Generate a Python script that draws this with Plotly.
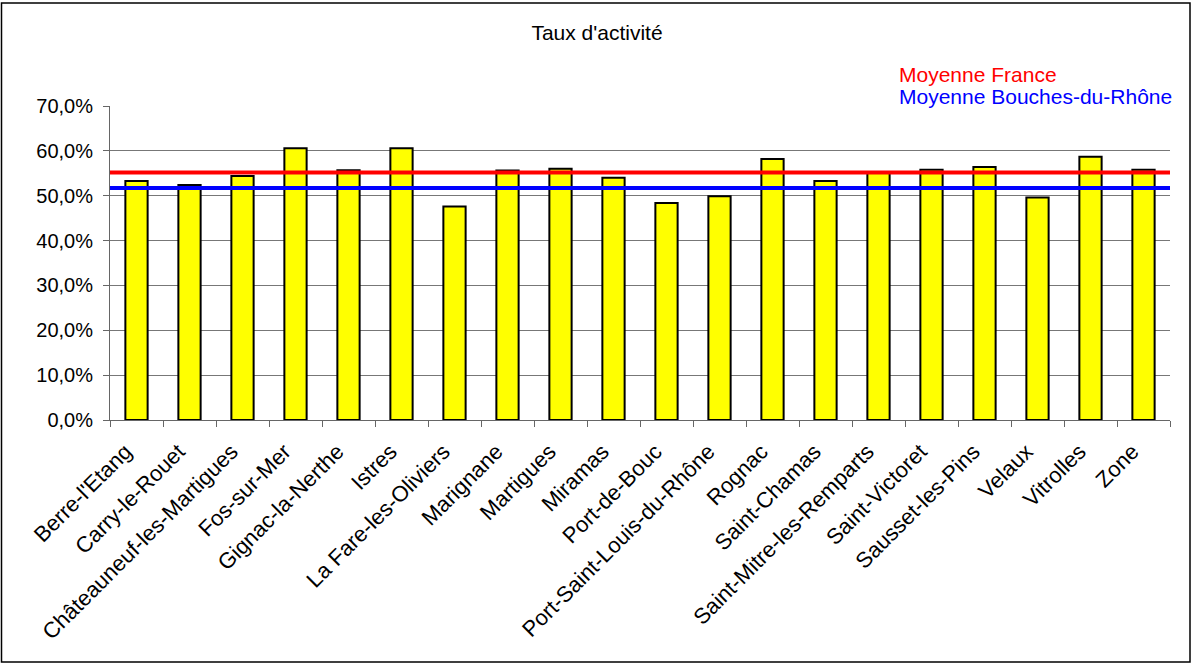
import plotly.graph_objects as go

# Communes and their activity rate (share of active population)
communes = [
    "Berre-l'Etang", "Carry-le-Rouet", "Châteauneuf-les-Martigues", "Fos-sur-Mer",
    "Gignac-la-Nerthe", "Istres", "La Fare-les-Oliviers", "Marignane", "Martigues",
    "Miramas", "Port-de-Bouc", "Port-Saint-Louis-du-Rhône", "Rognac", "Saint-Chamas",
    "Saint-Mitre-les-Remparts", "Saint-Victoret", "Sausset-les-Pins", "Velaux",
    "Vitrolles", "Zone",
]
taux_activite = [
    0.533, 0.524, 0.544, 0.606, 0.557, 0.606, 0.476, 0.556, 0.560, 0.540,
    0.484, 0.499, 0.582, 0.533, 0.552, 0.558, 0.564, 0.496, 0.587, 0.558,
]

# Reference averages
moyenne_france = 0.552
moyenne_bdr = 0.517
ref_labels = ["Moyenne France", "Moyenne Bouches-du-Rhône"]
ref_values = [moyenne_france, moyenne_bdr]
ref_colors = ["#FF0000", "#0000FF"]

y_ticks = [0.0, 0.1, 0.2, 0.3, 0.4, 0.5, 0.6, 0.7]

W, H = 1192, 664
ML, MR, MT, MB = 110, 22, 106, 244
FONT = "Liberation Sans, Arial, sans-serif"

fig = go.Figure()
fig.add_trace(go.Bar(
    x=communes,
    y=taux_activite,
    marker=dict(color="#FFFF00", line=dict(color="#000000", width=2)),
    showlegend=False,
    hoverinfo="x+y",
))

# Horizontal average lines across the plot area
for val, col in zip(ref_values, ref_colors):
    fig.add_shape(type="line", xref="paper", x0=0, x1=1, yref="y", y0=val, y1=val,
                  line=dict(color=col, width=4), layer="above")

# Coloured text labels for the averages
pw = W - ML - MR
ph = H - MT - MB
for i, (lab, col) in enumerate(zip(ref_labels, ref_colors)):
    fig.add_annotation(
        text=lab, xref="paper", yref="paper",
        x=(897 - ML) / pw, y=(H - MB - (75 + 22 * i)) / ph,
        xanchor="left", yanchor="middle", showarrow=False,
        font=dict(family=FONT, size=21, color=col),
    )

# Outer chart frame
fig.add_shape(type="rect", xref="paper", yref="paper",
              x0=(1.5 - ML) / pw, x1=(1190 - ML) / pw,
              y0=(H - MB - 662) / ph, y1=(H - MB - 3) / ph,
              line=dict(color="#000000", width=1.5), layer="below")

fig.update_layout(
    width=W, height=H,
    margin=dict(l=ML, r=MR, t=MT, b=MB),
    paper_bgcolor="white", plot_bgcolor="white",
    separators=", ",
    bargap=0.58,
    title=dict(text="Taux d'activité", x=597 / W, xref="container", xanchor="center",
               y=1 - 33 / H, yanchor="middle",
               font=dict(family=FONT, size=21, color="#000000")),
    font=dict(family=FONT, size=20, color="#000000"),
    xaxis=dict(
        type="category", tickangle=-45, tickson="boundaries",
        ticks="outside", ticklen=6, tickcolor="#666666",
        showline=True, linecolor="#666666", linewidth=1,
        showgrid=False, automargin=False, ticklabelstandoff=9,
        ticklabelshift=-11,
        tickfont=dict(family=FONT, size=22, color="#000000"),
        range=[-0.5, len(communes) - 0.5],
    ),
    yaxis=dict(
        range=[0, 0.7], tickvals=y_ticks, tickformat=".1%",
        ticks="outside", ticklen=6, tickcolor="#666666",
        showline=True, linecolor="#666666", linewidth=1,
        showgrid=True, gridcolor="#777777", gridwidth=1,
        zeroline=False, automargin=False, ticklabelstandoff=6,
        tickfont=dict(family=FONT, size=20, color="#000000"),
    ),
)

fig.write_html("out.html")
